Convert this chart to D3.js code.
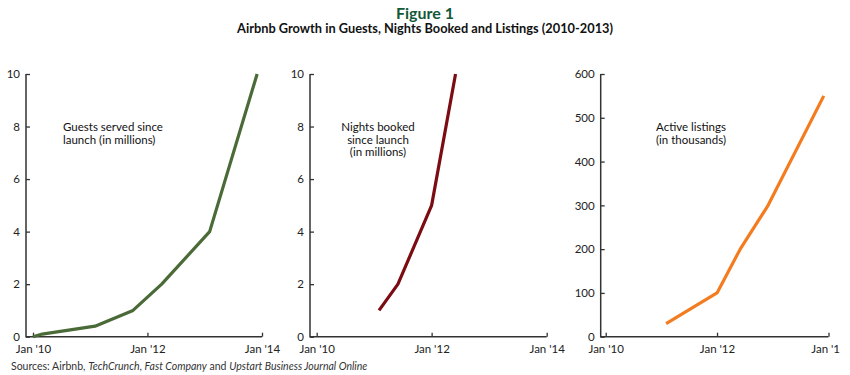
<!DOCTYPE html>
<html><head><meta charset="utf-8">
<script src="https://cdn.jsdelivr.net/npm/d3@7"></script>
<style>body{margin:0;background:#fff}</style>
</head><body>
<svg id="c" width="850" height="375"></svg>
<script>
const guestDates = ["2010-01","2010-03","2011-02","2011-10","2012-04","2013-02","2013-12"];
const guestValues = [0, 0.1, 0.4, 1, 2, 4, 10];
const nightDates = ["2011-02","2011-06","2012-01","2012-06"];
const nightValues = [1, 2, 5, 10];
const listingDates = ["2011-02","2012-01","2012-06","2012-12","2013-12"];
const listingValues = [30, 100, 200, 300, 550];
const xTickDates = ["2010-01","2012-01","2014-01"];
const xTickLabels = ["Jan '10","Jan '12","Jan '14"];
const yTicksMillions = [0,2,4,6,8,10];
const yTicksThousands = [0,100,200,300,400,500,600];

const FONT = "Lato,'Open Sans',sans-serif";
const svg = d3.select("#c");
const parse = d3.timeParse("%Y-%m");

svg.append("text").attr("x",425).attr("y",19).attr("text-anchor","middle")
  .style("font-family",FONT).style("font-size","16px").style("font-weight","bold")
  .attr("fill","#14593a").text("Figure 1");
svg.append("text").attr("x",425).attr("y",33).attr("text-anchor","middle")
  .attr("textLength",376).attr("lengthAdjust","spacingAndGlyphs")
  .style("font-family",FONT).style("font-size","12.5px").style("font-weight","bold")
  .attr("fill","#111").text("Airbnb Growth in Guests, Nights Booked and Listings (2010-2013)");
const src = svg.append("text").attr("x",11).attr("y",370)
  .style("font-family",FONT).style("font-size","10.5px").attr("fill","#333");
src.append("tspan").text("Sources: Airbnb, ");
src.append("tspan").style("font-style","italic").text("TechCrunch");
src.append("tspan").text(", ");
src.append("tspan").style("font-style","italic").text("Fast Company");
src.append("tspan").text(" and ");
src.append("tspan").style("font-style","italic").text("Upstart Business Journal Online");

const y0 = 336.7, yTop = 74;
const panels = [
  {axisX:26, x0:33, x1:262, max:10, ticks:yTicksMillions, dates:guestDates, vals:guestValues, color:"#4a6a37",
   label:["Guests served since","launch (in millions)"], lx:63, anchor:"start"},
  {axisX:310, x0:316.7, x1:546.7, max:10, ticks:yTicksMillions, dates:nightDates, vals:nightValues, color:"#7b0c12",
   label:["Nights booked","since launch","(in millions)"], lx:378, anchor:"middle"},
  {axisX:600.7, x0:605.7, x1:828.5, max:600, ticks:yTicksThousands, dates:listingDates, vals:listingValues, color:"#f47c20",
   label:["Active listings","(in thousands)"], lx:691, anchor:"middle"}
];

svg.append("defs").append("clipPath").attr("id","clip").append("rect")
  .attr("x",0).attr("y",0).attr("width",840).attr("height",375);
const root = svg.append("g").attr("clip-path","url(#clip)");

panels.forEach(p => {
  const x = d3.scaleTime().domain([parse("2010-01"), parse("2014-01")]).range([p.x0, p.x1]);
  const y = d3.scaleLinear().domain([0, p.max]).range([y0, yTop]);
  const g = root.append("g");
  const xa = g.append("g").attr("transform",`translate(0,${y0})`)
    .call(d3.axisBottom(x).tickValues(xTickDates.map(parse)).tickFormat((d,i)=>xTickLabels[i]).tickSize(-4).tickPadding(8));
  xa.select(".domain").remove();
  xa.selectAll("line").attr("stroke","#333").attr("stroke-width",1.3);
  xa.selectAll("text").style("font-family",FONT).style("font-size","11.5px").attr("fill","#222");
  const ya = g.append("g").attr("transform",`translate(${p.axisX},0)`)
    .call(d3.axisLeft(y).tickValues(p.ticks).tickSize(-4).tickPadding(6));
  ya.select(".domain").remove();
  ya.selectAll("line").attr("stroke","#333").attr("stroke-width",1.3);
  ya.selectAll("text").style("font-family",FONT).style("font-size","11.5px").attr("fill","#222");
  g.append("path").attr("d",`M${p.axisX},${yTop}V${y0}H${p.x1}`).attr("fill","none")
    .attr("stroke","#333").attr("stroke-width",1.5);
  const data = p.dates.map((d,i)=>({d:parse(d), v:p.vals[i]}));
  g.append("path").datum(data).attr("fill","none").attr("stroke",p.color).attr("stroke-width",3.2)
    .attr("stroke-linejoin","round")
    .attr("d", d3.line().x(d=>x(d.d)).y(d=>y(d.v)));
  p.label.forEach((s,i)=> g.append("text").attr("text-anchor",p.anchor).style("font-family",FONT)
    .style("font-size","11.5px").attr("fill","#111")
    .attr("x",p.lx).attr("y",131+i*12.5).text(s));
});
</script>
</body></html>
